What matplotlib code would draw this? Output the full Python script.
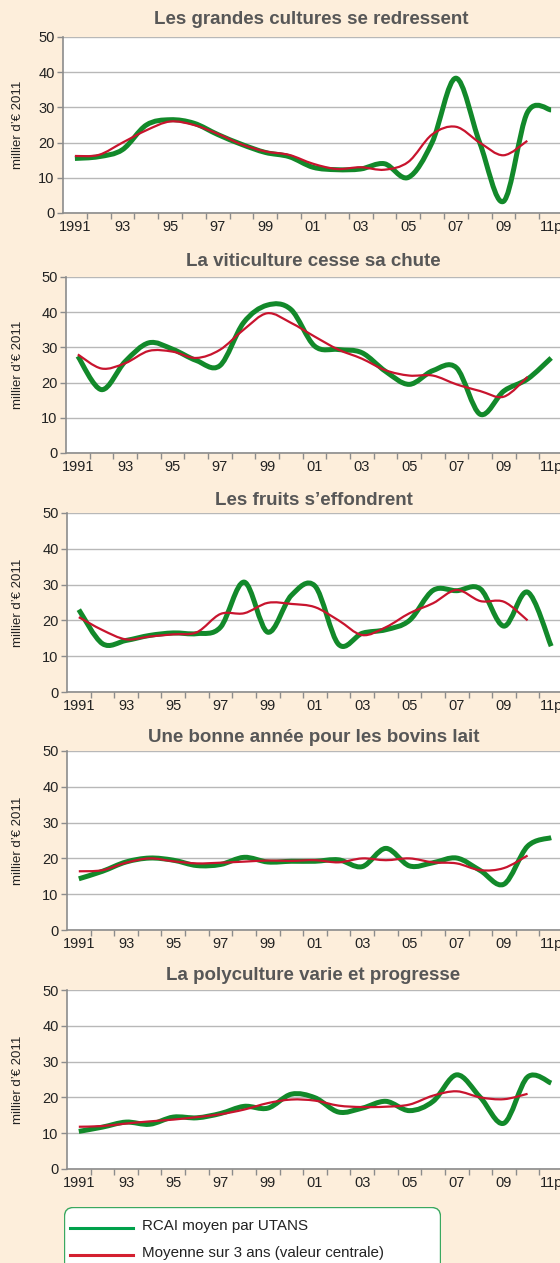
import numpy as np
import matplotlib
matplotlib.use('Agg')
import matplotlib.pyplot as plt
from matplotlib.path import Path
from matplotlib.patches import PathPatch, FancyBboxPatch
from matplotlib.lines import Line2D

# ---- data (milliers d'euros 2011), 1991 .. 2011p
years = list(range(1991, 2012))
year_labels = ['1991', '93', '95', '97', '99', '01', '03', '05', '07', '09', '11p']

titles = [
    'Les grandes cultures se redressent',
    'La viticulture cesse sa chute',
    'Les fruits s\u2019effondrent',
    'Une bonne ann\u00e9e pour les bovins lait',
    'La polyculture varie et progresse',
]

cultures_rcai = [15.5, 16, 18, 25, 26.5, 25.5, 22.3, 19.5, 17.2, 16, 13,
                 12.3, 12.5, 14, 10.1, 20, 38.3, 20, 3.3, 28.5, 29.3]
cultures_moy = [16.2, 16.5, 20, 23.5, 26, 25, 22.5, 19.5, 17.5, 16.5, 14,
                12.5, 13, 12.3, 14.5, 22.3, 24.5, 20, 16.4, 20.5]

viti_rcai = [27.5, 18, 26, 31.3, 29.5, 26.3, 24.8, 37, 42, 40.8, 30.4,
             29.4, 28.5, 23.2, 19.5, 23.4, 24.2, 11, 17.6, 21, 27]
viti_moy = [28, 24, 25.5, 29, 28.8, 27, 29.3, 35, 39.7, 37, 33.1,
            29.4, 26.8, 23.5, 22, 22, 19.5, 17.6, 16, 21.6]

fruits_rcai = [23, 13.5, 14.4, 15.8, 16.5, 16.3, 18.1, 30.7, 16.7, 27, 29.6,
               13.3, 16.4, 17.4, 20, 28.4, 28.3, 28.8, 18.4, 27.9, 12.8]
fruits_moy = [20.9, 17.3, 14.7, 15.5, 16.1, 16.7, 21.8, 22, 24.9, 24.6, 23.7,
              20, 15.9, 18.1, 22, 24.8, 28.5, 25.4, 25.2, 20]

bovins_rcai = [14.3, 16.4, 19, 20.1, 19.5, 18, 18.3, 20.3, 19, 19.2, 19.2,
               19.6, 17.7, 22.8, 17.9, 18.8, 20.1, 16.6, 12.8, 23.4, 25.8]
bovins_moy = [16.4, 16.7, 18.8, 20, 19.2, 18.6, 18.8, 19.1, 19.4, 19.3, 19.5,
              18.9, 20, 19.5, 20, 18.9, 18.6, 16.7, 17.3, 20.8]

poly_rcai = [10.5, 11.7, 13.1, 12.5, 14.5, 14.3, 15.5, 17.5, 17, 20.9, 19.9,
             15.9, 17, 18.9, 16.3, 18.9, 26.3, 20, 12.8, 25.7, 24]
poly_moy = [11.8, 12, 12.7, 13.3, 13.8, 14.5, 15.3, 16.6, 18.4, 19.4, 19.1,
            17.7, 17.3, 17.4, 18, 20.5, 21.7, 20, 19.5, 21]

series = [
    (cultures_rcai, cultures_moy),
    (viti_rcai, viti_moy),
    (fruits_rcai, fruits_moy),
    (bovins_rcai, bovins_moy),
    (poly_rcai, poly_moy),
]

# ---- layout in pixels (left, top of plot, bottom of plot, title y)
W, H = 560, 1263
panels_px = [(63, 37, 213, 20), (66, 277, 453, 262), (67, 513, 692, 500),
             (67, 751, 930, 738), (67, 990, 1169, 975)]

BG = '#fdeedb'
GREEN = '#12892a'
RED = '#c8142e'
GRID = '#b8b8b8'
AXIS = '#8c8c8c'
SANS = ['Liberation Sans', 'DejaVu Sans']


def smooth_path(xs, ys):
    # cubic Bezier through every point (Excel-like smoothed line)
    pts = np.column_stack([xs, ys]).astype(float)
    n = len(pts)
    verts = [pts[0]]
    codes = [Path.MOVETO]
    for i in range(n - 1):
        p0 = pts[max(i - 1, 0)]
        p1 = pts[i]
        p2 = pts[i + 1]
        p3 = pts[min(i + 2, n - 1)]
        verts += [p1 + (p2 - p0) / 6, p2 - (p3 - p1) / 6, p2]
        codes += [Path.CURVE4] * 3
    return Path(verts, codes)


fig = plt.figure(figsize=(W / 100, H / 100), dpi=100)
fig.patch.set_facecolor(BG)

x = np.arange(len(years))

for (left, top, bottom, ty), title, (rcai, moy) in zip(panels_px, titles, series):
    ax = fig.add_axes([left / W, 1 - bottom / H, (W + 3 - left) / W, (bottom - top) / H])
    ax.set_facecolor('white')
    ax.set_xlim(-0.5, len(years) - 0.5)
    ax.set_ylim(0, 50)

    ax.add_patch(PathPatch(smooth_path(x, rcai), fill=False, edgecolor=GREEN,
                           lw=3.6, joinstyle='round', capstyle='butt', zorder=3))
    ax.add_patch(PathPatch(smooth_path(x[:len(moy)], moy), fill=False, edgecolor=RED,
                           lw=1.6, joinstyle='round', capstyle='butt', zorder=4))

    ax.set_yticks(range(0, 51, 10))
    ax.yaxis.grid(True, color=GRID, lw=1.0)
    ax.set_axisbelow(True)
    ax.set_xticks(x[::2])
    ax.set_xticklabels(year_labels)
    ax.set_xticks(np.arange(len(years)) + 0.5, minor=True)
    ax.tick_params(axis='x', which='major', length=0, pad=5)
    ax.tick_params(axis='x', which='minor', length=4, width=1, color=AXIS, direction='out')
    ax.tick_params(axis='y', length=4, width=1, color=AXIS, direction='out', pad=2)
    for lab in ax.get_xticklabels() + ax.get_yticklabels():
        lab.set_family(SANS)
        lab.set_fontsize(10.5)
        lab.set_color('#222222')

    for s in ['top', 'right']:
        ax.spines[s].set_visible(False)
    for s in ['left', 'bottom']:
        ax.spines[s].set_color(AXIS)
        ax.spines[s].set_linewidth(1.2)

    fig.text((left + W) / 2 / W, 1 - ty / H, title, ha='center', va='center',
             fontsize=13.5, fontweight='bold', color='#575757', family=SANS)
    fig.text(18 / W, 1 - (top + bottom) / 2 / H, 'millier d\u2019\u20ac 2011', rotation=90,
             ha='center', va='center', fontsize=9.5, color='#222222', family=SANS)

# ---- legend box
lx0, lx1, ly0, ly1 = 64, 441, 1207, 1280
lax = fig.add_axes([lx0 / W, 1 - ly1 / H, (lx1 - lx0) / W, (ly1 - ly0) / H])
lax.set_xlim(0, lx1 - lx0)
lax.set_ylim(ly1 - ly0, 0)
lax.axis('off')
lax.add_patch(FancyBboxPatch((0.5, 0.5), lx1 - lx0 - 1, ly1 - ly0 - 1,
                             boxstyle='round,pad=0,rounding_size=9',
                             facecolor='white', edgecolor='#3aa860', lw=1.0))
legend_items = [('RCAI moyen par UTANS', '#00a14b', 21),
                ('Moyenne sur 3 ans (valeur centrale)', '#d42030', 48)]
for label, col, yy in legend_items:
    lax.add_line(Line2D([6, 69], [yy, yy], color=col, lw=2.2))
    lax.text(78, yy - 2, label, ha='left', va='center', fontsize=10.9,
             color='#222222', family=SANS)

fig.savefig('out.png', dpi=100, facecolor=BG)
